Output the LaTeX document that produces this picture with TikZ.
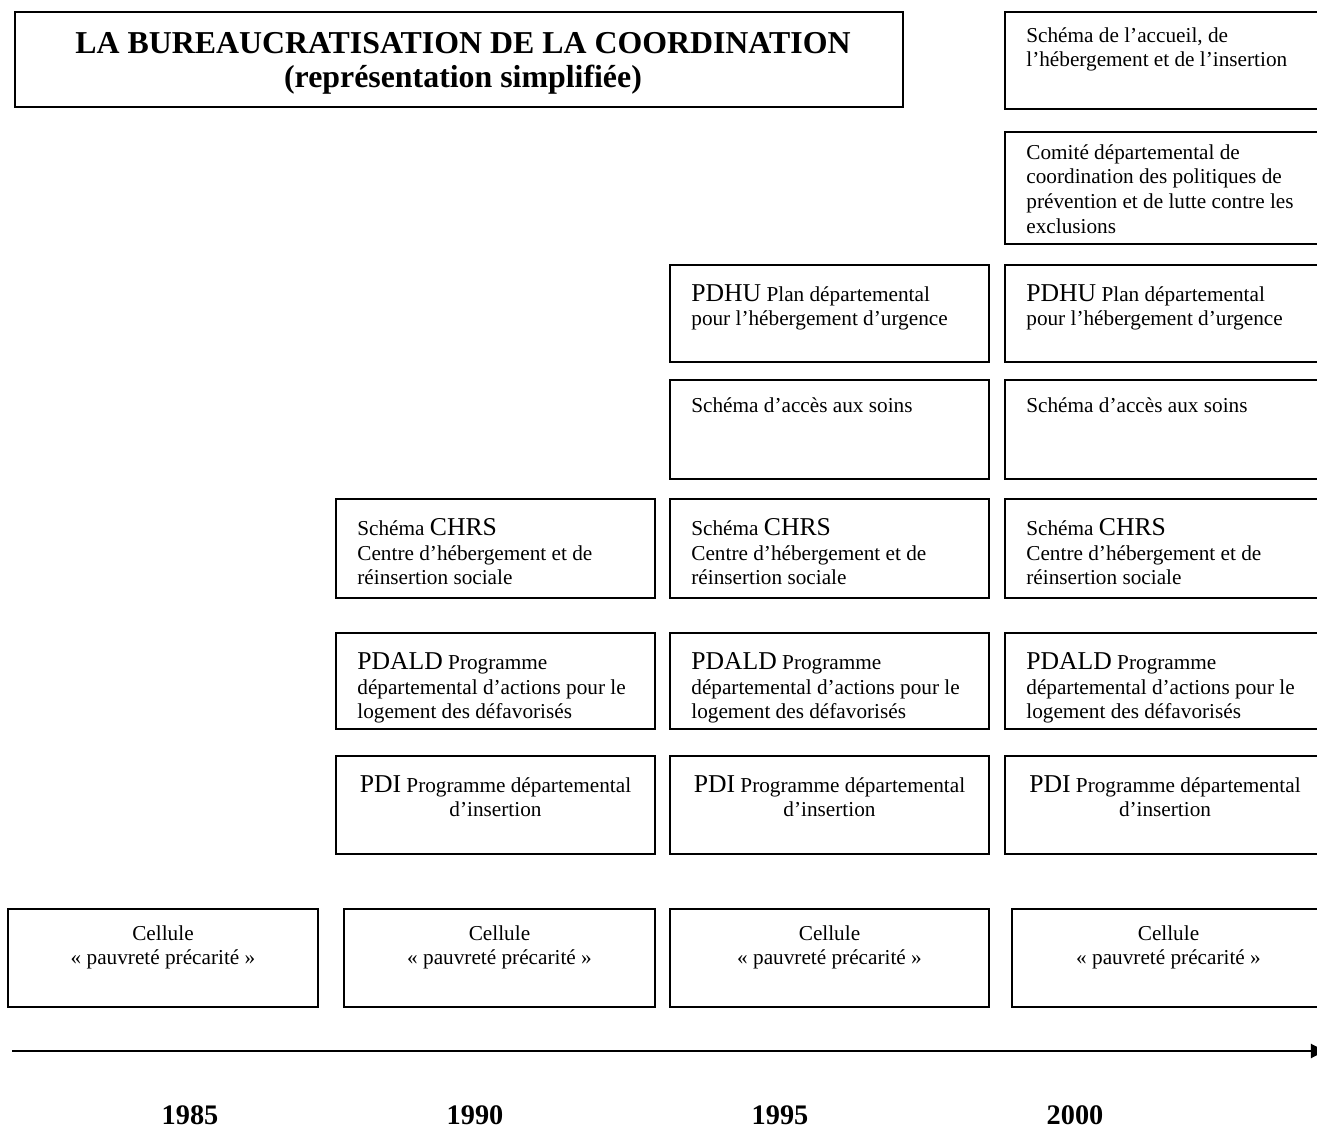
\documentclass[tikz,border=0pt]{standalone}
\usepackage{fontspec}
\setmainfont{Liberation Serif}
\usepackage{tikz}
\usetikzlibrary{arrows.meta, positioning, fit}

\newcommand{\sigle}[1]{{\fontsize{14.5}{16}\selectfont #1}}

\begin{document}
\begin{tikzpicture}[
    x=0.565pt, y=-0.565pt,
    font=\fontsize{12}{14}\selectfont,
    boite/.style={rectangle, draw=black, line width=1.1pt,
                  inner sep=0pt, fill=none},
    texte/.style={anchor=north west, inner sep=0pt, align=left},
    centre/.style={anchor=north, inner sep=0pt, align=center},
    annee/.style={font=\fontsize{16}{18}\selectfont\bfseries},
    fleche/.style={-{Triangle[length=8pt, width=8pt]}, line width=1.1pt},
]

%% ─── page frame (right column runs off the page) ─────────────
\useasboundingbox (0,0) rectangle (1317,1128);
\clip (0,0) rectangle (1317,1128);

%% ─── title ───────────────────────────────────────────────────
\node[boite, fit={(15,12) (903,107)}] (titre) {};
\node[align=center, font=\fontsize{18}{19.5}\selectfont\bfseries]
    at ([shift={(4,4)}]titre.center)
    {LA BUREAUCRATISATION DE LA COORDINATION\\(représentation simplifiée)};

%% ─── boxes ───────────────────────────────────────────────────
\node[boite, fit={(1005,12) (1325,109)}]  (accueil) {};
\node[boite, fit={(1005,132) (1325,244)}] (comite)  {};

\node[boite, fit={(670,265) (989,362)}]   (pdhuA) {};
\node[boite, fit={(1005,265) (1325,362)}] (pdhuB) {};

\node[boite, fit={(670,380) (989,479)}]   (soinsA) {};
\node[boite, fit={(1005,380) (1325,479)}] (soinsB) {};

\node[boite, fit={(336,499) (655,598)}]   (chrsA) {};
\node[boite, fit={(670,499) (989,598)}]   (chrsB) {};
\node[boite, fit={(1005,499) (1325,598)}] (chrsC) {};

\node[boite, fit={(336,633) (655,729)}]   (pdaldA) {};
\node[boite, fit={(670,633) (989,729)}]   (pdaldB) {};
\node[boite, fit={(1005,633) (1325,729)}] (pdaldC) {};

\node[boite, fit={(336,756) (655,854)}]   (pdiA) {};
\node[boite, fit={(670,756) (989,854)}]   (pdiB) {};
\node[boite, fit={(1005,756) (1325,854)}] (pdiC) {};

\node[boite, fit={(8,909) (318,1007)}]    (celA) {};
\node[boite, fit={(344,909) (655,1007)}]  (celB) {};
\node[boite, fit={(670,909) (989,1007)}]  (celC) {};
\node[boite, fit={(1012,909) (1325,1007)}] (celD) {};

%% ─── box texts ───────────────────────────────────────────────
\node[texte] at ([shift={(22,16)}]accueil.north west)
    {Schéma de l'accueil, de\\l'hébergement et de l'insertion};
\node[texte] at ([shift={(22,13)}]comite.north west)
    {Comité départemental de\\coordination des politiques de\\
     prévention et de lutte contre les\\exclusions};

\node[texte] at ([shift={(22,20)}]pdhuA.north west)
    {\sigle{PDHU} Plan départemental\\pour l'hébergement d'urgence};
\node[texte] at ([shift={(22,20)}]pdhuB.north west)
    {\sigle{PDHU} Plan départemental\\pour l'hébergement d'urgence};

\node[texte] at ([shift={(22,18)}]soinsA.north west) {Schéma d'accès aux soins};
\node[texte] at ([shift={(22,18)}]soinsB.north west) {Schéma d'accès aux soins};

\node[texte] at ([shift={(22,20)}]chrsA.north west)
    {Schéma \sigle{CHRS}\\Centre d'hébergement et de\\réinsertion sociale};
\node[texte] at ([shift={(22,20)}]chrsB.north west)
    {Schéma \sigle{CHRS}\\Centre d'hébergement et de\\réinsertion sociale};
\node[texte] at ([shift={(22,20)}]chrsC.north west)
    {Schéma \sigle{CHRS}\\Centre d'hébergement et de\\réinsertion sociale};

\node[texte] at ([shift={(22,20)}]pdaldA.north west)
    {\sigle{PDALD} Programme\\départemental d'actions pour le\\logement des défavorisés};
\node[texte] at ([shift={(22,20)}]pdaldB.north west)
    {\sigle{PDALD} Programme\\départemental d'actions pour le\\logement des défavorisés};
\node[texte] at ([shift={(22,20)}]pdaldC.north west)
    {\sigle{PDALD} Programme\\départemental d'actions pour le\\logement des défavorisés};

\node[centre] at ([shift={(0,20)}]pdiA.north)
    {\sigle{PDI} Programme départemental\\d'insertion};
\node[centre] at ([shift={(0,20)}]pdiB.north)
    {\sigle{PDI} Programme départemental\\d'insertion};
\node[centre] at ([shift={(0,20)}]pdiC.north)
    {\sigle{PDI} Programme départemental\\d'insertion};

\node[centre] at ([shift={(0,17)}]celA.north) {Cellule\\«~pauvreté précarité~»};
\node[centre] at ([shift={(0,17)}]celB.north) {Cellule\\«~pauvreté précarité~»};
\node[centre] at ([shift={(0,17)}]celC.north) {Cellule\\«~pauvreté précarité~»};
\node[centre] at ([shift={(0,17)}]celD.north) {Cellule\\«~pauvreté précarité~»};

%% ─── time axis ───────────────────────────────────────────────
\coordinate (debut) at (12,1051);
\coordinate (fin)   at (1325,1051);
\draw[fleche] (debut) -- (fin);

\node[annee] (an85) at (190,1115)  {1985};
\node[annee] (an90) at (475,1115)  {1990};
\node[annee] (an95) at (780,1115)  {1995};
\node[annee] (an00) at (1075,1115) {2000};

\end{tikzpicture}
\end{document}
